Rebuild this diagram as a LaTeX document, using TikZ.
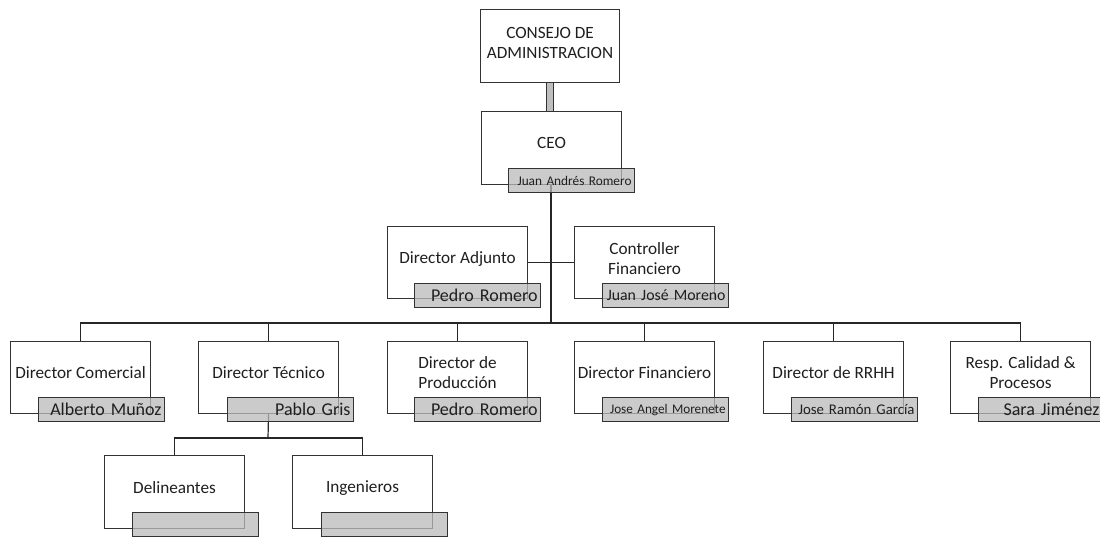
\documentclass[tikz,border=0pt]{standalone}
\usepackage{fontspec}
\setmainfont{Carlito}
\usetikzlibrary{calc}
\tikzset{
  box/.style={draw=black!80, line width=1.1pt, fill=white, minimum width=140pt, minimum height=72pt, anchor=north west, inner sep=0pt},
  title/.style={font=\fontsize{17.2}{20}\selectfont, align=center, text=black!88, inner sep=0pt},
  namebox/.style={draw=black!80, line width=1.1pt, fill=black!27, fill opacity=0.75, text opacity=1, minimum width=126pt, minimum height=24pt, anchor=north west, inner ysep=0pt, inner xsep=3pt, text width=120pt, align=right, text=black!88},
  big/.style={font=\fontsize{18}{20}\selectfont},
  link/.style={draw=black!85, line width=1.2pt},
  thick link/.style={draw=black!80, line width=1pt, double=black!25, double distance=6pt},
}
\begin{document}
\begin{tikzpicture}[x=1pt, y=-1pt]
\useasboundingbox (0,0) rectangle (1100,536);
\clip (0,0) rectangle (1100,536);
\fill[white] (0,0) rectangle (1100,536);

% boxes
\node[box, minimum width=139pt, minimum height=73pt] (cons) at (480,9) {};
\node[box, minimum height=73pt] (ceo) at (481,111) {};
\node[box] (adj) at (387,226) {};
\node[box] (ctrl) at (574,226) {};
\node[box] (com) at (10,341) {};
\node[box] (tec) at (198,341) {};
\node[box] (prod) at (387,341) {};
\node[box] (fin) at (574,341) {};
\node[box] (rrhh) at (763,341) {};
\node[box] (cal) at (950,341) {};
\node[box, minimum height=73pt] (del) at (104,455) {};
\node[box, minimum height=73pt] (ing) at (292,455) {};

% titles
\node[title] (cons-t) at ($(cons.north)+(0,34)$) {CONSEJO DE\\ADMINISTRACION};
\node[title] (ceo-t) at ($(ceo.north)+(0,32)$) {CEO};
\node[title] (adj-t) at ($(adj.north)+(0,33)$) {Director Adjunto};
\node[title] (ctrl-t) at ($(ctrl.north)+(0,33)$) {Controller\\Financiero};
\node[title] (com-t) at ($(com.north)+(0,32)$) {Director Comercial};
\node[title] (tec-t) at ($(tec.north)+(0,32)$) {Director Técnico};
\node[title] (prod-t) at ($(prod.north)+(0,32)$) {Director de\\Producción};
\node[title] (fin-t) at ($(fin.north)+(0,32)$) {Director Financiero};
\node[title] (rrhh-t) at ($(rrhh.north)+(0,32)$) {Director de RRHH};
\node[title] (cal-t) at ($(cal.north)+(0,32)$) {Resp. Calidad \&\\Procesos};
\node[title] (del-t) at ($(del.north)+(0,33)$) {Delineantes};
\node[title] (ing-t) at ($(ing.north)+(0,33)$) {Ingenieros};

% connectors
\draw[thick link] (cons.south) -- (cons.south |- ceo.north);
\coordinate (bar) at (551,323);
\coordinate (tbar) at (268,438);
\draw[link] (ceo.south -| bar) -- (bar);
\draw[link] (adj.east) -- (ctrl.west);
\draw[link] (com.north) -- (com.north |- bar) -- (cal.north |- bar) -- (cal.north);
\draw[link] (tec.north) -- (tec.north |- bar);
\draw[link] (prod.north) -- (prod.north |- bar);
\draw[link] (fin.north) -- (fin.north |- bar);
\draw[link] (rrhh.north) -- (rrhh.north |- bar);
\draw[link] (tec.south) -- (tbar);
\draw[link] (del.north) -- (del.north |- tbar) -- (ing.north |- tbar) -- (ing.north);

% name boxes
\node[namebox, font=\fontsize{13.3}{16}\selectfont] (ceo-n) at (508,168) {Juan Andrés Romero};
\node[namebox, big] (adj-n) at (414,283) {Pedro Romero};
\node[namebox, font=\fontsize{15.8}{18}\selectfont] (ctrl-n) at (602,283) {\mbox{Juan José Moreno}};
\node[namebox, big] (com-n) at (38,397) {Alberto Muñoz};
\node[namebox, big] (tec-n) at (227,397) {Pablo Gris};
\node[namebox, big] (prod-n) at (414,397) {Pedro Romero};
\node[namebox, font=\fontsize{13.2}{16}\selectfont] (fin-n) at (602,397) {Jose Angel Morenete};
\node[namebox, font=\fontsize{14.8}{16}\selectfont] (rrhh-n) at (791,397) {Jose Ramón García};
\node[namebox, big, align=left] (cal-n) at (978,397) {\hspace*{22pt}Sara Jiménez};
\node[namebox] (del-n) at (132,512) {};
\node[namebox] (ing-n) at (321,512) {};
\end{tikzpicture}
\end{document}
